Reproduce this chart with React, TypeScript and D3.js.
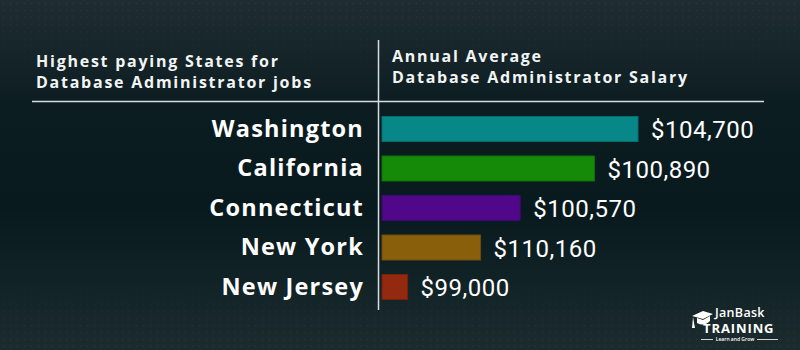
import React from "react";
import * as d3 from "d3";

const states = ["Washington", "California", "Connecticut", "New York", "New Jersey"];
const salaries = [104700, 100890, 100570, 110160, 99000];
// relative bar lengths as drawn in the graphic (0-100)
const barWeights = [100, 83, 54, 38.5, 10];
const barColors = ["#088789", "#148a08", "#510789", "#8a5f0c", "#93290f"];
const leftTitle = ["Highest paying States for", "Database Administrator jobs"];
const rightTitle = ["Annual Average", "Database Administrator Salary"];

const W = 800;
const H = 350;

export default function App() {
  const x = d3.scaleLinear().domain([0, 100]).range([382, 638]);
  const y = d3.scalePoint<string>().domain(states).range([129, 287]);
  const barH = 25;
  const fmt = (v: number) => "$" + d3.format(",")(v);
  const sans = "'Open Sans', 'DejaVu Sans', sans-serif";

  return (
    <svg
      width={W}
      height={H}
      style={{ position: "absolute", left: 0, top: 0, display: "block" }}
    >
      <defs>
        <linearGradient id="bg" x1="0" y1="0" x2="0" y2="1">
          <stop offset="0%" stopColor="#1f2d31" />
          <stop offset="30%" stopColor="#0c1d21" />
          <stop offset="60%" stopColor="#081a1e" />
          <stop offset="100%" stopColor="#1b2b2e" />
        </linearGradient>
        <pattern id="dots" width="7" height="7" patternUnits="userSpaceOnUse">
          <circle cx="3.5" cy="3.5" r="0.9" fill="#ffffff" fillOpacity="0.05" />
        </pattern>
        <linearGradient id="fade" x1="0" y1="0" x2="0" y2="1">
          <stop offset="0%" stopColor="#fff" stopOpacity="1" />
          <stop offset="25%" stopColor="#fff" stopOpacity="0" />
          <stop offset="75%" stopColor="#fff" stopOpacity="0" />
          <stop offset="100%" stopColor="#fff" stopOpacity="1" />
        </linearGradient>
        <mask id="dotmask">
          <rect width={W} height={H} fill="url(#fade)" />
        </mask>
      </defs>
      <rect width={W} height={H} fill="url(#bg)" />
      <rect width={W} height={H} fill="url(#dots)" mask="url(#dotmask)" />

      {/* header titles */}
      {leftTitle.map((t, i) => (
        <text
          key={"l" + i}
          x={36}
          y={67 + i * 21}
          fill="#f2f4f4"
          fontFamily={sans}
          fontWeight={700}
          fontSize={16}
          letterSpacing={1.75}
        >
          {t}
        </text>
      ))}
      {rightTitle.map((t, i) => (
        <text
          key={"r" + i}
          x={392}
          y={62 + i * 21}
          fill="#f2f4f4"
          fontFamily={sans}
          fontWeight={700}
          fontSize={16}
          letterSpacing={1.75}
        >
          {t}
        </text>
      ))}

      {/* divider lines */}
      <line x1={32} x2={764} y1={101.5} y2={101.5} stroke="#d5dede" strokeWidth={1.5} />
      <line x1={378.5} x2={378.5} y1={40} y2={310} stroke="#d5dede" strokeWidth={1.5} />

      {/* bars */}
      {states.map((s, i) => {
        const cy = y(s) as number;
        return (
          <g key={s}>
            <text
              x={364}
              y={cy + 7.5}
              textAnchor="end"
              fill="#ffffff"
              fontFamily={sans}
              fontWeight={700}
              fontSize={23.5}
              letterSpacing={1.2}
            >
              {s}
            </text>
            <rect
              x={x(0)}
              y={cy - barH / 2}
              width={x(barWeights[i]) - x(0)}
              height={barH}
              fill={barColors[i]}
              stroke={d3.color(barColors[i])!.darker(0.6).toString()}
              strokeWidth={1}
            />
            <text
              x={x(barWeights[i]) + 13}
              y={cy + 9}
              fill="#ffffff"
              fontFamily="Roboto, 'Liberation Sans', sans-serif"
              fontSize={24}
              letterSpacing={0.5}
            >
              {fmt(salaries[i])}
            </text>
          </g>
        );
      })}

      {/* logo */}
      <g fill="#ffffff">
        <path d="M692,316 L703,311 L713,314 L703,319 Z" />
        <path d="M697,318 L697,323 Q704,327 710,321 L710,316 L703,320 Z" />
        <path d="M693,317 L692,328 L695,328 Z" />
        <text x={715} y={316.5} fontFamily={sans} fontWeight={600} fontSize={12.5} letterSpacing={0.3}>
          JanBask
        </text>
        <text x={703} y={333} fontFamily={sans} fontWeight={700} fontSize={13} letterSpacing={0.9}>
          TRAINING
        </text>
        <text x={735} y={341} fontFamily={sans} fontWeight={600} fontSize={5} textAnchor="middle">
          Learn and Grow
        </text>
        <rect x={701} y={339} width={12} height={0.8} />
        <rect x={757} y={339} width={21} height={0.8} />
      </g>
    </svg>
  );
}
